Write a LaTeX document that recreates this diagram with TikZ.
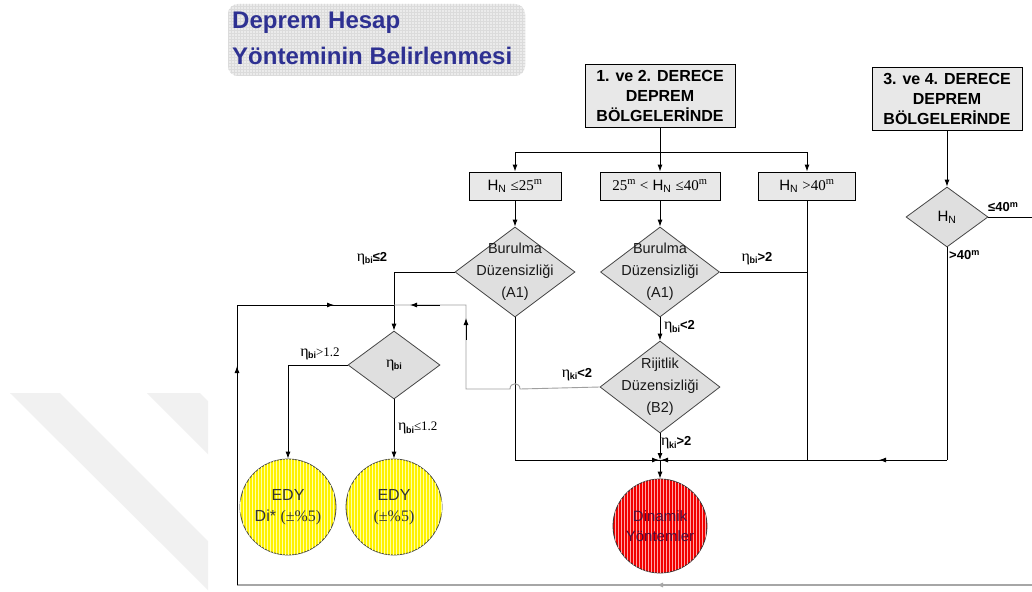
\documentclass[tikz,border=0pt]{standalone}
\usepackage{fontspec}
\setmainfont{Liberation Sans}
\newfontfamily\serif{Liberation Serif}
\usetikzlibrary{shapes.geometric,arrows.meta,patterns}
\definecolor{titleblue}{RGB}{46,49,146}
\definecolor{dinred}{RGB}{80,15,60}
\newcommand\HN{H\textsubscript{N}}
\newcommand\et[1]{{\serif\fontsize{16}{16}\selectfont η}\kern-0.5pt\raisebox{-2.5pt}{\fontsize{9}{9}\selectfont\bfseries #1}}
\begin{document}
\begin{tikzpicture}[x=1pt,y=-1pt,
  line/.style={draw=black, line width=0.9pt},
  gline/.style={draw=gray!75, line width=0.9pt},
  arr/.style={line, -{Latex[length=7pt,width=5pt]}},
  bigbox/.style={draw=black, line width=0.9pt, fill=gray!18, minimum width=150pt, minimum height=63pt, inner sep=0pt, align=center, font=\bfseries\fontsize{16}{20}\selectfont},
  hbox/.style={draw=black, line width=0.9pt, fill=gray!18, minimum height=28pt, inner sep=0pt, font=\fontsize{15}{15}\selectfont},
  dia/.style={diamond, draw=gray!55!black, line width=0.8pt, fill=gray!25, inner sep=0pt},
  diatext/.style={align=center, font=\fontsize{14.5}{22}\selectfont, text=black!90},
  lab/.style={inner sep=0pt, font=\fontsize{13}{13}\selectfont},
  ycirc/.style={circle, draw=gray!55!black, line width=0.8pt, fill=yellow, minimum size=96pt, inner sep=0pt, postaction={pattern=vertical lines, pattern color=yellow!35!white}},
  rcirc/.style={circle, draw=gray!40!black, line width=0.8pt, fill=red!95!black, minimum size=94pt, inner sep=0pt, postaction={pattern=vertical lines, pattern color=red!35!white}}
]
\useasboundingbox (0,0) rectangle (1032,591);
\fill[white] (0,0) rectangle (1032,591);
% faint watermark
\fill[gray!11] (10,393) -- (60,393) -- (208,541) -- (208,590) -- cycle;
\fill[gray!11] (147,393) -- (200,393) -- (208,401) -- (208,454) -- cycle;

% title
\fill[gray!16, rounded corners=10pt] (228,4) rectangle (525,76);
\path[pattern=grid, pattern color=gray!28, rounded corners=10pt] (228,4) rectangle (525,76);
\node[anchor=base west, inner sep=0pt, text=titleblue, font=\bfseries\fontsize{24}{24}\selectfont] (t1) at (232,29) {Deprem Hesap};
\node[anchor=base west, inner sep=0pt, text=titleblue, font=\bfseries\fontsize{24}{24}\selectfont] (t2) at (232,65) {Yönteminin Belirlenmesi};

% top boxes
\node[bigbox] (A) at (660,95.5) {1. ve 2. DERECE\\DEPREM\\BÖLGELERİNDE};
\node[bigbox] (B) at (947,98.5) {3. ve 4. DERECE\\DEPREM\\BÖLGELERİNDE};

\node[hbox, minimum width=92pt] (b1) at (515,186) {\HN\ {\serif ≤25\textsuperscript{m}}};
\node[hbox, minimum width=120pt] (b2) at (660,186) {{\serif 25\textsuperscript{m} <} \HN\ {\serif ≤40\textsuperscript{m}}};
\node[hbox, minimum width=97pt] (b3) at (807,186) {\HN\ {\serif >40\textsuperscript{m}}};

% diamonds
\node[dia, minimum width=120pt, minimum height=90pt] (d1) at (515,272) {};
\node[diatext] (d1t) at (d1) {Burulma\\Düzensizliği\\(A1)};
\node[dia, minimum width=119pt, minimum height=90pt] (d2) at (660,272) {};
\node[diatext] (d2t) at (d2) {Burulma\\Düzensizliği\\(A1)};
\node[dia, minimum width=120pt, minimum height=92pt] (d3) at (660,387) {};
\node[diatext] (d3t) at (d3) {Rijitlik\\Düzensizliği\\(B2)};
\node[dia, minimum width=92pt, minimum height=68pt] (de) at (394,365) {};
\node[inner sep=0pt] (det) at (de) {\et{bi}};
\node[dia, minimum width=82pt, minimum height=60pt] (dh) at (947,217) {};
\node[inner sep=0pt, font=\fontsize{15}{15}\selectfont] (dht) at (dh) {\HN};

% circles
\node[ycirc] (c1) at (288,507) {};
\node[align=center, font=\fontsize{16}{21}\selectfont, text=black!80] (c1t) at (c1) {EDY\\Di* {\serif (±\%5)}};
\node[ycirc] (c2) at (394,507) {};
\node[align=center, font=\fontsize{16}{21}\selectfont, text=black!80] (c2t) at (c2) {EDY\\{\serif (±\%5)}};
\node[rcirc] (c3) at (660,526) {};
\node[align=center, font=\fontsize{15}{20}\selectfont, text=dinred] (c3t) at (c3) {Dinamik\\Yöntemler};

% coordinates
\coordinate (s) at (660,152);
\coordinate (sL) at (515,152);
\coordinate (sR) at (807,152);
\coordinate (m1) at (394,272);
\coordinate (m2) at (807,272);
\coordinate (j1) at (515,460);
\coordinate (j2) at (660,460);
\coordinate (j3) at (807,460);
\coordinate (j4) at (947,460);
\coordinate (e1) at (1032,217);
\coordinate (g1) at (466,389);
\coordinate (g2) at (466,305);
\coordinate (tp) at (394,305);
\coordinate (tl) at (237,305);
\coordinate (bl) at (237,585);
\coordinate (br) at (1032,585);
\coordinate (k1) at (288,365);
\coordinate (h1) at (520,389);
\coordinate (h2) at (510,389);

% connectors from A
\draw[line] (A.south) -- (s);
\draw[line] (sL) -- (sR);
\draw[arr] (sL) -- (b1.north);
\draw[arr] (s) -- (b2.north);
\draw[arr] (sR) -- (b3.north);
\draw[arr] (b1.south) -- (d1.north);
\draw[arr] (b2.south) -- (d2.north);
\draw[line] (b3.south) -- (j3);

% d1
\draw[arr] (d1.west) -- (m1) -- (de.north);
\node[lab, anchor=south] (l1) at (372,265) {\et{bi}{\bfseries ≤2}};
\draw[line] (d1.south) -- (j1);

% d2
\draw[line] (d2.east) -- (m2);
\node[lab, anchor=south] (l2) at (757,265) {\et{bi}{\bfseries >2}};
\draw[arr] (d2.south) -- (d3.north);
\node[lab, anchor=west] (l3) at (664,327) {\et{bi}{\bfseries <2}};

% d3
\draw[arr] (d3.south) -- (j2);
\node[lab, anchor=west] (l4) at (661,443) {\et{ki}{\bfseries >2}};
\draw[gline] (d3.west) -- (h1) .. controls (520,382) and (510,382) .. (h2) -- (g1) -- (g2) -- (tp);
\draw[arr] (466,340) -- (466,318);
\draw[arr] (440,305) -- (410,305);
\node[lab, anchor=south] (l5) at (577,381) {\et{ki}{\bfseries <2}};

% merge line
\draw[line] (j1) -- (j4);
\draw[arr] (j1) -- ([xshift=-1pt]j2);
\draw[arr] (j4) -- ([xshift=1pt]j2);
\draw[arr] (900,460) -- (879,460);
\draw[arr] (j2) -- (c3.north);

% right branch
\draw[arr] (B.south) -- (dh.north);
\draw[line] (dh.east) -- (e1);
\node[lab, anchor=south west] (l6) at (988,212) {{\bfseries ≤40\textsuperscript{m}}};
\draw[line] (dh.south) -- (j4);
\node[lab, anchor=north west] (l7) at (949,250) {{\bfseries >40\textsuperscript{m}}};

% return loop
\draw[draw=gray!70, line width=1.8pt] (br) -- (bl);
\draw[draw=gray!70, line width=1.8pt, -{Latex[length=7pt,width=5pt]}] (680,585) -- (656,585);
\draw[line] (bl) -- (tl) -- (tp);
\draw[arr] (237,385) -- (237,366);
\draw[arr] (310,305) -- (334,305);

% eta diamond branches
\draw[arr] (de.west) -- (k1) -- (c1.north);
\node[lab, anchor=south] (l8) at (320,360) {\et{bi}{\serif >1.2}};
\draw[arr] (de.south) -- (c2.north);
\node[lab, anchor=west] (l9) at (398,428) {\et{bi}{\serif ≤1.2}};
\end{tikzpicture}
\end{document}
